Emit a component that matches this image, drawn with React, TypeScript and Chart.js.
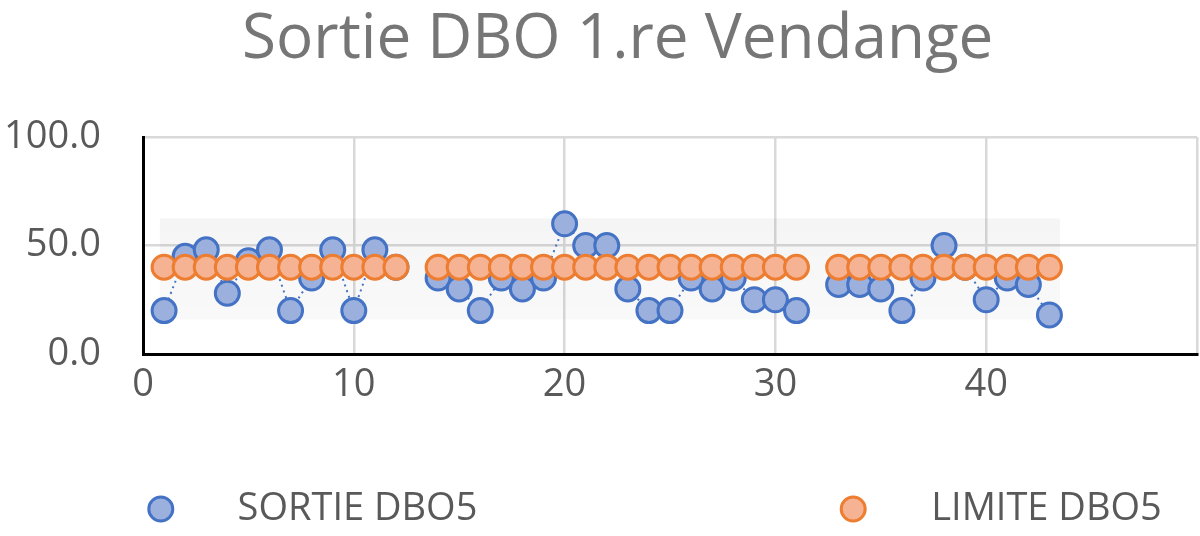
import React, { useEffect, useRef } from "react";
import { Chart, registerables } from "chart.js";

Chart.register(...registerables);

const TITLE = "Sortie DBO 1.re Vendange";
const SERIES_NAMES = ["SORTIE DBO5", "LIMITE DBO5"];
const X_VALUES = [1, 2, 3, 4, 5, 6, 7, 8, 9, 10, 11, 12, 13, 14, 15, 16, 17, 18, 19, 20, 21, 22, 23, 24, 25, 26, 27, 28, 29, 30, 31, 32, 33, 34, 35, 36, 37, 38, 39, 40, 41, 42, 43];
const SORTIE = [20, 45, 48, 28, 43, 48, 20, 35, 48, 20, 48, 40, null, 35, 30, 20, 35, 30, 35, 60, 50, 50, 30, 20, 20, 35, 30, 35, 25, 25, 20, null, 32, 32, 30, 20, 35, 50, 40, 25, 35, 32, 18];
const LIMITE = [40, 40, 40, 40, 40, 40, 40, 40, 40, 40, 40, 40, null, 40, 40, 40, 40, 40, 40, 40, 40, 40, 40, 40, 40, 40, 40, 40, 40, 40, 40, null, 40, 40, 40, 40, 40, 40, 40, 40, 40, 40, 40];
const Y_TICKS = [0, 50, 100];
const X_TICKS = [0, 10, 20, 30, 40];

const BLUE_BORDER = "#4472C4";
const BLUE_FILL = "#9CB0DE";
const ORANGE_BORDER = "#ED7D31";
const ORANGE_FILL = "#F5B394";
const FONT = "'Open Sans', 'Liberation Sans', sans-serif";

const bandPlugin = {
  id: "band",
  beforeDatasetsDraw(chart: any) {
    const { ctx, scales } = chart;
    const vals = SORTIE.filter((v) => v !== null) as number[];
    const lo = Math.min(...vals) - 2;
    const hi = Math.max(...vals) + 2.5;
    const x0 = scales.x.getPixelForValue(X_VALUES[0] - 0.2);
    const x1 = scales.x.getPixelForValue(X_VALUES[X_VALUES.length - 1] + 0.5);
    const y0 = scales.y.getPixelForValue(hi);
    const y1 = scales.y.getPixelForValue(lo);
    ctx.save();
    const g = ctx.createLinearGradient(0, y0, 0, y1);
    g.addColorStop(0, "rgba(0,0,0,0.04)");
    g.addColorStop(1, "rgba(0,0,0,0.025)");
    ctx.fillStyle = g;
    ctx.fillRect(x0, y0, x1 - x0, y1 - y0);
    ctx.restore();
  },
};

const titleShiftPlugin = {
  id: "titleShift",
  afterLayout(chart: any) {
    if (chart.titleBlock) {
      chart.titleBlock.left = chart.width * 0.032;
    }
  },
};

const legendPlugin = {
  id: "customLegend",
  afterDraw(chart: any) {
    const { ctx, width } = chart;
    const items = [
      { name: SERIES_NAMES[0], fill: BLUE_FILL, border: BLUE_BORDER, cx: width * 0.134, tx: width * 0.198 },
      { name: SERIES_NAMES[1], fill: ORANGE_FILL, border: ORANGE_BORDER, cx: width * 0.711, tx: width * 0.776 },
    ];
    const cy = 509;
    ctx.save();
    items.forEach((it) => {
      ctx.beginPath();
      ctx.arc(it.cx, cy, 12, 0, Math.PI * 2);
      ctx.fillStyle = it.fill;
      ctx.fill();
      ctx.lineWidth = 3;
      ctx.strokeStyle = it.border;
      ctx.stroke();
      ctx.fillStyle = "#595959";
      ctx.font = `38px ${FONT}`;
      ctx.textAlign = "left";
      ctx.textBaseline = "middle";
      ctx.fillText(it.name, it.tx, cy);
    });
    ctx.restore();
  },
};

export default function App() {
  const ref = useRef<HTMLCanvasElement | null>(null);
  useEffect(() => {
    if (!ref.current) return;
    const chart = new Chart(ref.current, {
      type: "line",
      data: {
        datasets: [
          {
            label: SERIES_NAMES[0],
            data: X_VALUES.map((x, i) => ({ x, y: SORTIE[i] })) as any,
            borderColor: BLUE_BORDER,
            backgroundColor: BLUE_FILL,
            pointBackgroundColor: BLUE_FILL,
            pointBorderColor: BLUE_BORDER,
            pointBorderWidth: 3,
            pointRadius: 12,
            borderWidth: 2,
            borderDash: [2, 4],
            spanGaps: false,
            order: 2,
          },
          {
            label: SERIES_NAMES[1],
            data: X_VALUES.map((x, i) => ({ x, y: LIMITE[i] })) as any,
            borderColor: ORANGE_BORDER,
            backgroundColor: ORANGE_FILL,
            pointBackgroundColor: ORANGE_FILL,
            pointBorderColor: ORANGE_BORDER,
            pointBorderWidth: 3,
            pointRadius: 12,
            showLine: false,
            order: 1,
          },
        ],
      },
      options: {
        responsive: false,
        animation: false,
        devicePixelRatio: 1,
        layout: { autoPadding: false, padding: { left: 0, right: 3, top: 0, bottom: 105 } },
        plugins: {
          legend: { display: false },
          tooltip: { enabled: false },
          title: {
            display: true,
            text: TITLE,
            color: "#767676",
            font: { family: FONT, size: 62, weight: "normal", lineHeight: 1.2 },
            padding: { top: 3, bottom: 59.6 },
          },
        },
        scales: {
          x: {
            type: "linear",
            min: 0,
            max: 50,
            afterFit(scale: any) {
              scale.height = 77;
              scale.paddingRight = 0;
              scale.paddingLeft = 0;
            },
            afterBuildTicks(scale: any) {
              scale.ticks = [...X_TICKS, 50].map((v) => ({ value: v }));
            },
            ticks: {
              color: "#595959",
              font: { family: FONT, size: 38 },
              padding: 8,
              maxRotation: 0,
              autoSkip: false,
              callback: (v: any) => (X_TICKS.includes(Number(v)) ? String(v) : ""),
            },
            grid: { color: "#D9D9D9", lineWidth: 2.5, drawTicks: false },
            border: { color: "#000000", width: 3 },
          },
          y: {
            type: "linear",
            min: 0,
            max: 100,
            afterFit(scale: any) {
              scale.width = 143;
              scale.paddingTop = 0;
              scale.paddingBottom = 0;
            },
            afterBuildTicks(scale: any) {
              scale.ticks = Y_TICKS.map((v) => ({ value: v }));
            },
            ticks: {
              color: "#595959",
              font: { family: FONT, size: 38 },
              padding: 42,
              callback: (v: any) => Number(v).toFixed(1),
            },
            grid: { color: "#D9D9D9", lineWidth: 2.5, drawTicks: false },
            border: { color: "#000000", width: 3 },
          },
        },
      },
      plugins: [bandPlugin, titleShiftPlugin, legendPlugin],
    });
    return () => chart.destroy();
  }, []);
  return (
    <div style={{ position: "absolute", left: 0, top: 0, width: 1200, height: 536, background: "#fff" }}>
      <canvas ref={ref} width={1200} height={536} />
    </div>
  );
}
